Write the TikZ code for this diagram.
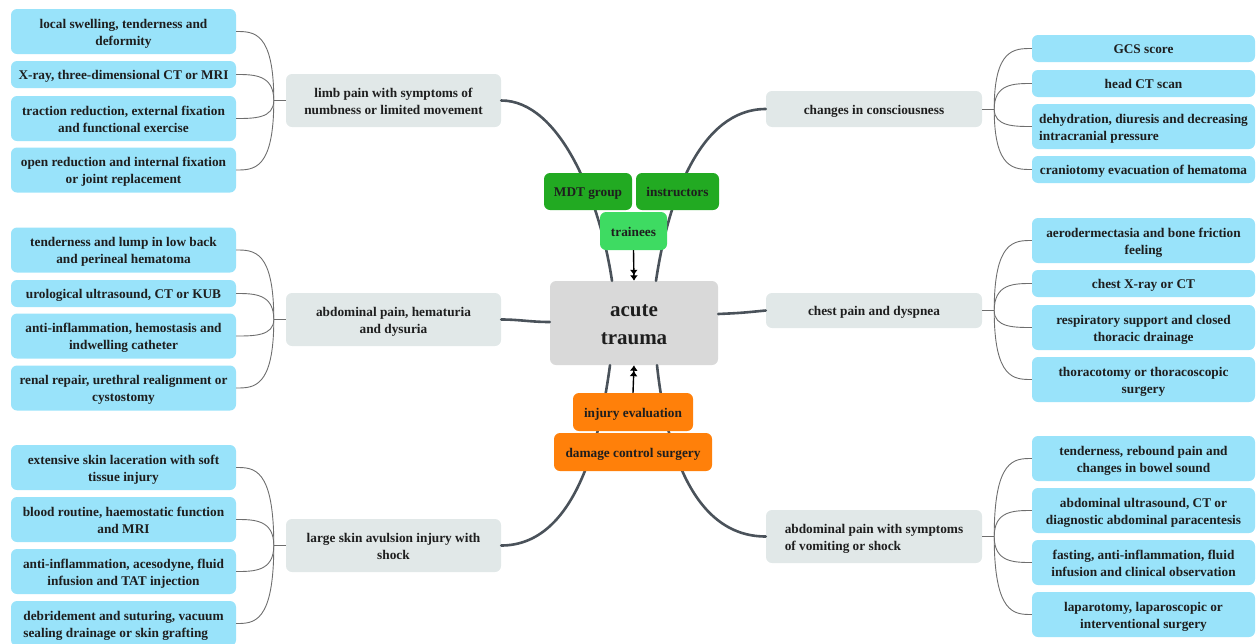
\documentclass[tikz,border=0pt]{standalone}
\usepackage{fontspec}
\setmainfont{Liberation Serif}
\usetikzlibrary{arrows.meta,calc}
\definecolor{leafblue}{HTML}{99E3FA}
\definecolor{midgray}{HTML}{E1E8E8}
\definecolor{hubgray}{HTML}{D9D9D9}
\definecolor{dgreen}{HTML}{22AA22}
\definecolor{lgreen}{HTML}{3EDB62}
\definecolor{orng}{HTML}{FF800A}
\definecolor{txt}{HTML}{1E1E1E}
\definecolor{mainline}{HTML}{4A525A}
\definecolor{thinline}{HTML}{6E6E6E}
\newcommand{\topstr}{\rule{0pt}{1.015em}}
\newcommand{\botstr}{\rule[-0.225em]{0pt}{0pt}}
\begin{document}
\begin{tikzpicture}[x=1pt,y=-1pt,
  base/.style={rounded corners=6pt, inner sep=2pt, align=center, text=txt,
    font=\bfseries\fontsize{13.3}{17.3}\selectfont},
  leafL/.style={base, fill=leafblue, minimum width=225pt},
  leafR/.style={base, fill=leafblue, minimum width=223pt},
  two/.style={minimum height=45pt},
  one/.style={minimum height=27pt},
  mid/.style={base, fill=midgray, minimum width=215pt},
  hub/.style={base, fill=hubgray, minimum width=168pt, minimum height=84pt,
    font=\bfseries\fontsize{21}{27.5}\selectfont},
  tagdark/.style={base, fill=dgreen, minimum height=37pt},
  taglight/.style={base, fill=lgreen, minimum height=38pt},
  tagorange/.style={base, fill=orng, minimum height=38pt},
  mainconn/.style={draw=mainline, line width=2.6pt, line cap=round},
  thinconn/.style={draw=thinline, line width=0.9pt},
  arrowconn/.style={draw=black, line width=1.4pt,
    -{Latex[length=5.5pt,width=8pt]Latex[length=5.5pt,width=8pt]}}
]
\useasboundingbox (0,0) rectangle (1256,643);

% ---------- mid nodes ----------
\node[mid, minimum height=53pt] (m1) at (393.5,100.5) {\topstr limb pain with symptoms of\\numbness or limited movement\botstr};
\node[mid, minimum height=53pt] (m2) at (393.5,319.5) {\topstr abdominal pain, hematuria\\and dysuria\botstr};
\node[mid, minimum height=53pt] (m3) at (393.5,545.5) {\topstr large skin avulsion injury with\\shock\botstr};
\node[mid, minimum width=216pt, minimum height=36pt] (m4) at (874,109) {\topstr changes in consciousness\botstr};
\node[mid, minimum width=216pt, minimum height=35pt] (m5) at (874,310.5) {\topstr chest pain and dyspnea\botstr};
\node[mid, minimum width=216pt, minimum height=53pt, align=left] (m6) at (874,536.5) {\topstr abdominal pain with symptoms\\of vomiting or shock\botstr};

% ---------- hub ----------
\node[hub] (hub) at (634,323) {\topstr acute\\trauma\rule[-0.3em]{0pt}{0pt}};

\coordinate (hnw) at ($(hub.north)+(-22,0)$);
\coordinate (hne) at ($(hub.north)+(22,0)$);
\coordinate (hsw) at ($(hub.south)+(-24,0)$);
\coordinate (hse) at ($(hub.south)+(23,0)$);
\coordinate (hw) at ($(hub.west)+(0,-1)$);
\coordinate (he) at ($(hub.east)+(0,-9)$);

% ---------- main connectors ----------
\draw[mainconn] (hnw) .. controls (600,200) and (560,100.5) .. (m1.east);
\draw[mainconn] (hne) .. controls (668,200) and (700,109) .. (m4.west);
\draw[mainconn] (hw) .. controls (530,322) and (520,319.5) .. (m2.east);
\draw[mainconn] (he) .. controls (740,313) .. (m5.west);
\draw[mainconn] (hsw) .. controls (600,440) and (575,545.5) .. (m3.east);
\draw[mainconn] (hse) .. controls (665,440) and (690,536.5) .. (m6.west);

% ---------- tags ----------
\node[tagdark, minimum width=88pt] (mdt) at (588,191.5) {\topstr MDT group\botstr};
\node[tagdark, minimum width=83pt] (ins) at (677.5,191.5) {\topstr instructors\botstr};
\node[taglight, minimum width=67pt] (tra) at (633.5,231) {\topstr trainees\botstr};
\node[tagorange, minimum width=120pt] (inj) at (633,412) {\topstr injury evaluation\botstr};
\node[tagorange, minimum width=158pt] (dcs) at (633,452) {\topstr damage control surgery\botstr};

\draw[arrowconn] (tra.south) -- (hub.north);
\draw[arrowconn] (inj.north) -- (hub.south);

% ---------- left group 1 ----------
\node[leafL, two] (a1) at (123.5,31.5) {\topstr local swelling, tenderness and\\deformity\botstr};
\node[leafL, one] (a2) at (123.5,74.5) {\topstr X-ray, three-dimensional CT or MRI\botstr};
\node[leafL, two] (a3) at (123.5,118.5) {\topstr traction reduction, external fixation\\and functional exercise\botstr};
\node[leafL, two] (a4) at (123.5,170) {\topstr open reduction and internal fixation\\or joint replacement\botstr};

% ---------- left group 2 ----------
\node[leafL, two] (b1) at (123.5,250) {\topstr tenderness and lump in low back\\and perineal hematoma\botstr};
\node[leafL, one] (b2) at (123.5,293.5) {\topstr urological ultrasound, CT or KUB\botstr};
\node[leafL, two] (b3) at (123.5,336) {\topstr anti-inflammation, hemostasis and\\indwelling catheter\botstr};
\node[leafL, two] (b4) at (123.5,388) {\topstr renal repair, urethral realignment or\\cystostomy\botstr};

% ---------- left group 3 ----------
\node[leafL, two] (c1) at (123.5,467.5) {\topstr extensive skin laceration with soft\\tissue injury\botstr};
\node[leafL, two] (c2) at (123.5,519.5) {\topstr blood routine, haemostatic function\\and MRI\botstr};
\node[leafL, two] (c3) at (123.5,571.5) {\topstr anti-inflammation, acesodyne, fluid\\infusion and TAT injection\botstr};
\node[leafL, two, align=left] (c4) at (123.5,623.5) {\topstr debridement and suturing, vacuum\\sealing drainage or skin grafting\botstr};

% ---------- right group 1 ----------
\node[leafR, one] (d1) at (1143.5,48.5) {\topstr GCS score\botstr};
\node[leafR, one] (d2) at (1143.5,83.5) {\topstr head CT scan\botstr};
\node[leafR, two, align=left] (d3) at (1143.5,126.5) {\topstr dehydration, diuresis and decreasing\\intracranial pressure\botstr};
\node[leafR, one] (d4) at (1143.5,169.5) {\topstr craniotomy evacuation of hematoma\botstr};

% ---------- right group 2 ----------
\node[leafR, two] (e1) at (1143.5,240.5) {\topstr aerodermectasia and bone friction\\feeling\botstr};
\node[leafR, one] (e2) at (1143.5,283.5) {\topstr chest X-ray or CT\botstr};
\node[leafR, two] (e3) at (1143.5,327.5) {\topstr respiratory support and closed\\thoracic drainage\botstr};
\node[leafR, two] (e4) at (1143.5,379.5) {\topstr thoracotomy or thoracoscopic\\surgery\botstr};

% ---------- right group 3 ----------
\node[leafR, two] (g1) at (1143.5,458.5) {\topstr tenderness, rebound pain and\\changes in bowel sound\botstr};
\node[leafR, two] (g2) at (1143.5,510.5) {\topstr abdominal ultrasound, CT or\\diagnostic abdominal paracentesis\botstr};
\node[leafR, two] (g3) at (1143.5,562.5) {\topstr fasting, anti-inflammation, fluid\\infusion and clinical observation\botstr};
\node[leafR, two] (g4) at (1143.5,614.5) {\topstr laparotomy, laparoscopic or\\interventional surgery\botstr};

% ---------- leaf fans ----------
\foreach \m/\l in {m1/a, m2/b, m3/c} {
  \coordinate (f\m) at ($(\m.west)+(-12,0)$);
  \draw[thinconn] (\m.west) -- (f\m);
  \foreach \i in {1,2,3,4} {
    \draw[thinconn] (f\m) .. controls (f\m |- \l\i) and ($(f\m |- \l\i)+(-20,0)$) .. (\l\i.east);
  }
}
\foreach \m/\l in {m4/d, m5/e, m6/g} {
  \coordinate (f\m) at ($(\m.east)+(12,0)$);
  \draw[thinconn] (\m.east) -- (f\m);
  \foreach \i in {1,2,3,4} {
    \draw[thinconn] (f\m) .. controls (f\m |- \l\i) and ($(f\m |- \l\i)+(20,0)$) .. (\l\i.west);
  }
}
\end{tikzpicture}
\end{document}
